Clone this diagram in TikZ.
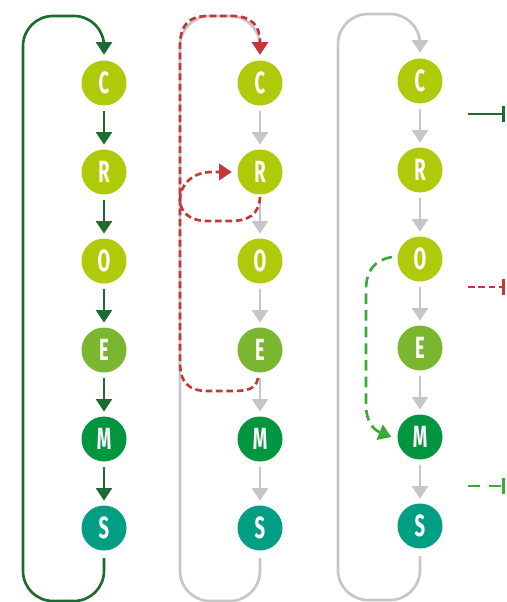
\documentclass[tikz,border=0pt]{standalone}
\usepackage{fontspec}
\newfontfamily\nodefont[FakeStretch=0.6]{Fira Sans}
\usetikzlibrary{arrows.meta}
\definecolor{lime}{HTML}{AFCA0B}
\definecolor{egreen}{HTML}{7AB62F}
\definecolor{mgreen}{HTML}{009640}
\definecolor{steal}{HTML}{009F83}
\definecolor{dgreen}{HTML}{1E6B30}
\definecolor{lgrey}{HTML}{C6C6C6}
\definecolor{rred}{HTML}{C4373A}
\definecolor{dgr}{HTML}{3BAA35}
\begin{document}
\begin{tikzpicture}[x=0.75pt,y=-0.75pt,
  circ/.style={circle,minimum size=33.75pt,inner sep=0pt,text=white,
    font=\nodefont\bfseries\fontsize{23}{23}\selectfont},
  tri/.style={-{Triangle[width=12pt,length=9.5pt]}},
  darr/.style={tri,draw=dgreen,fill=none,line width=2pt},
  garr/.style={tri,draw=lgrey,line width=2pt},
  link/.style={shorten <=4pt,shorten >=3.4pt},
  rdash/.style={draw=rred,line width=2pt,dash pattern=on 5pt off 2.8pt,
    -{Triangle[width=12pt,length=9.5pt,fill=rred]}},
  gdash/.style={draw=dgr,line width=2pt,dash pattern=on 8pt off 4.5pt,
    -{Triangle[width=12pt,length=9.5pt,fill=dgr]}},
  loopc/.style={rounded corners=22.5pt}]
\useasboundingbox (0,0) rectangle (506,602);

\foreach \c/\x/\d in {1/104/0,2/260/0,3/420/-2}{
  \node[circ,fill=lime]   (C\c) at (\x,83+\d)  {C};
  \node[circ,fill=lime]   (R\c) at (\x,172+\d) {R};
  \node[circ,fill=lime]   (O\c) at (\x,261+\d) {O};
  \node[circ,fill=egreen] (E\c) at (\x,350+\d) {E};
  \node[circ,fill=mgreen] (M\c) at (\x,439+\d) {M};
  \node[circ,fill=steal]  (S\c) at (\x,528+\d) {S};
}

% column 1
\foreach \a/\b in {C/R,R/O,O/E,E/M,M/S}{
  \draw[darr,link] (\a1) -- (\b1);
}
\draw[darr,loopc] ([yshift=-5.6pt]S1.south) -- (104,601) -- (23,601) -- (23,16) -- (104,16) -- ([yshift=4.1pt]C1.north);

% column 2 and 3 grey
\foreach \c in {2,3}{
  \foreach \a/\b in {C/R,R/O,O/E,E/M,M/S}{
    \draw[garr,link] (\a\c) -- (\b\c);
  }
}
\draw[garr,loopc] ([yshift=-5.6pt]S2.south) -- (260,601) -- (180,601) -- (180,16) -- (260,16) -- ([yshift=4.1pt]C2.north);
\draw[garr,loopc] ([yshift=-5.6pt]S3.south) -- (420,600) -- (338,600) -- (338,14) -- (420,14) -- ([yshift=4.1pt]C3.north);

% red paths
\coordinate (eA) at (258,378);
\coordinate (rA) at (260,197);
\draw[rdash] (eA) .. controls (256,389) and (248,391) .. (232,391) -- (208,391)
  .. controls (188,391) and (180,382) .. (180,362) -- (180,46)
  .. controls (180,26) and (188,16) .. (208,16) -- (232,16)
  .. controls (252,16) and (260,26) .. (260,42) -- ([yshift=4.1pt]C2.north);
\draw[rdash] (rA) .. controls (259,215) and (248,221) .. (230,221) -- (207,221)
  .. controls (190,221) and (180,212) .. (180,200)
  .. controls (180,185) and (192,172) .. (212,172) -- ([xshift=-4pt]R2.west);

% green path
\coordinate (oG) at (392,257);
\draw[gdash] (oG) .. controls (375,260) and (366,270) .. (366,290) -- (366,405)
  .. controls (366,422) and (374,430) .. ([xshift=-4.4pt]M3.west);

% legend
\coordinate (l1s) at (468,114); \coordinate (l1e) at (505,114);
\coordinate (l2s) at (468,287); \coordinate (l2e) at (505,287);
\coordinate (l3s) at (468,486); \coordinate (l3e) at (505,486);
\draw[draw=dgreen,line width=2.2pt,-{Bar[width=12pt]}] (l1s) -- (l1e);
\draw[draw=rred,line width=2.2pt,dash pattern=on 5pt off 2.8pt,-{Bar[width=12pt]}] (l2s) -- (l2e);
\draw[draw=dgr,line width=2.2pt,dash pattern=on 9pt off 7pt,-{Bar[width=12pt]}] (l3s) -- (l3e);
\end{tikzpicture}
\end{document}
